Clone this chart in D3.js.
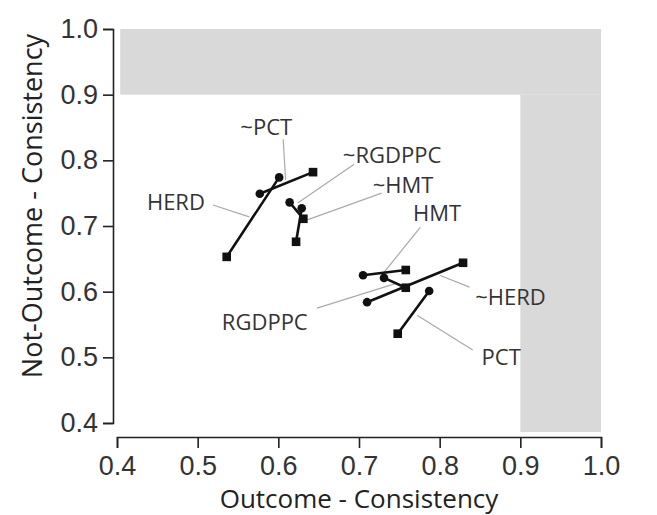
<!DOCTYPE html>
<html>
<head>
	<meta charset="utf-8">
	<script src="https://d3js.org/d3.v7.min.js"></script>
	<style>
		body { margin: 0; background: #fff; }
		svg { display: block; font-family: "Open Sans", sans-serif; }
		.domain, .tick line { stroke: #222; stroke-width: 1.6; }
		.tick text { fill: #333; font-size: 27px; }
		.lbl { fill: #333; font-size: 22px; }
		.leader { stroke: #aaa; stroke-width: 1.2; }
	</style>
</head>
<body>
<svg width="657" height="515"></svg>

<script>
	// tick values on both axes
	const xTicks = [0.4, 0.5, 0.6, 0.7, 0.8, 0.9, 1.0];
	const yTicks = [0.4, 0.5, 0.6, 0.7, 0.8, 0.9, 1.0];

	// one segment per condition: circle end -> square end
	const conditions = ["HERD", "~PCT", "~RGDPPC", "~HMT", "HMT", "RGDPPC", "~HERD", "PCT"];
	const circleX = [0.601, 0.577, 0.614, 0.629, 0.705, 0.731, 0.710, 0.787];
	const circleY = [0.774, 0.749, 0.736, 0.727, 0.625, 0.621, 0.584, 0.601];
	const squareX = [0.536, 0.643, 0.631, 0.622, 0.758, 0.758, 0.829, 0.748];
	const squareY = [0.653, 0.782, 0.711, 0.676, 0.633, 0.606, 0.644, 0.536];

	// label placement (data units): text anchor point and leader line ends
	const labelX  = [0.509, 0.585, 0.680, 0.717, 0.767, 0.530, 0.844, 0.852];
	const labelY  = [0.724, 0.838, 0.796, 0.750, 0.707, 0.542, 0.580, 0.488];
	const leadX1  = [0.519, 0.606, 0.694, 0.728, 0.776, 0.648, 0.837, 0.841];
	const leadY1  = [0.732, 0.832, 0.794, 0.750, 0.698, 0.575, 0.607, 0.511];
	const leadX2  = [0.564, 0.609, 0.624, 0.635, 0.730, 0.747, 0.800, 0.772];
	const leadY2  = [0.714, 0.770, 0.735, 0.709, 0.628, 0.613, 0.625, 0.564];

	const svg = d3.select("svg");

	const x = d3.scaleLinear().domain([0.4, 1.0]).range([117, 601]);
	const y = d3.scaleLinear().domain([0.4, 1.0]).range([423, 29]);

	// grey "not reached" band along top and right
	svg.append("rect")
		.attr("x", x(0.404)).attr("y", y(1.0))
		.attr("width", x(1.0) - x(0.404)).attr("height", y(0.9) - y(1.0))
		.attr("fill", "#d9d9d9");
	svg.append("rect")
		.attr("x", x(0.9)).attr("y", y(0.9))
		.attr("width", x(1.0) - x(0.9)).attr("height", y(0.4) - y(0.9) + 9)
		.attr("fill", "#d9d9d9");

	const xAxis = d3.axisBottom(x).tickValues(xTicks).tickFormat(d3.format(".1f"))
		.tickSize(11).tickPadding(8);
	const yAxis = d3.axisLeft(y).tickValues(yTicks).tickFormat(d3.format(".1f"))
		.tickSize(10).tickPadding(5);

	svg.append("g").attr("transform", "translate(0,437)").call(xAxis);
	svg.append("g").attr("transform", "translate(113,0)").call(yAxis);

	svg.append("text")
		.attr("x", 359).attr("y", 508)
		.attr("text-anchor", "middle")
		.style("font-size", "26px").style("fill", "#222")
		.text("Outcome - Consistency");

	svg.append("text")
		.attr("transform", "translate(42,206) rotate(-90)")
		.attr("text-anchor", "middle")
		.style("font-size", "27px").style("fill", "#222")
		.text("Not-Outcome - Consistency");

	const idx = d3.range(conditions.length);

	// leader lines
	svg.selectAll(".leader").data(idx).enter()
		.append("line").attr("class", "leader")
		.attr("x1", i => x(leadX1[i])).attr("y1", i => y(leadY1[i]))
		.attr("x2", i => x(leadX2[i])).attr("y2", i => y(leadY2[i]));

	svg.selectAll(".seg").data(idx).enter()
		.append("line").attr("class", "seg")
		.attr("x1", i => x(circleX[i])).attr("y1", i => y(circleY[i]))
		.attr("x2", i => x(squareX[i])).attr("y2", i => y(squareY[i]))
		.attr("stroke", "#111").attr("stroke-width", 2.6);

	svg.selectAll(".dot").data(idx).enter()
		.append("circle").attr("class", "dot")
		.attr("cx", i => x(circleX[i])).attr("cy", i => y(circleY[i]))
		.attr("r", 4.3).attr("fill", "#111");

	svg.selectAll(".sq").data(idx).enter()
		.append("rect").attr("class", "sq")
		.attr("x", i => x(squareX[i]) - 4.3).attr("y", i => y(squareY[i]) - 4.3)
		.attr("width", 8.6).attr("height", 8.6).attr("fill", "#111");

	svg.selectAll(".lbl").data(idx).enter()
		.append("text").attr("class", "lbl")
		.attr("x", i => x(labelX[i])).attr("y", i => y(labelY[i]))
		.attr("text-anchor", i => conditions[i] === "HERD" ? "end" : (conditions[i] === "~PCT" ? "middle" : "start"))
		.text(i => conditions[i]);
</script>
</body>
</html>
